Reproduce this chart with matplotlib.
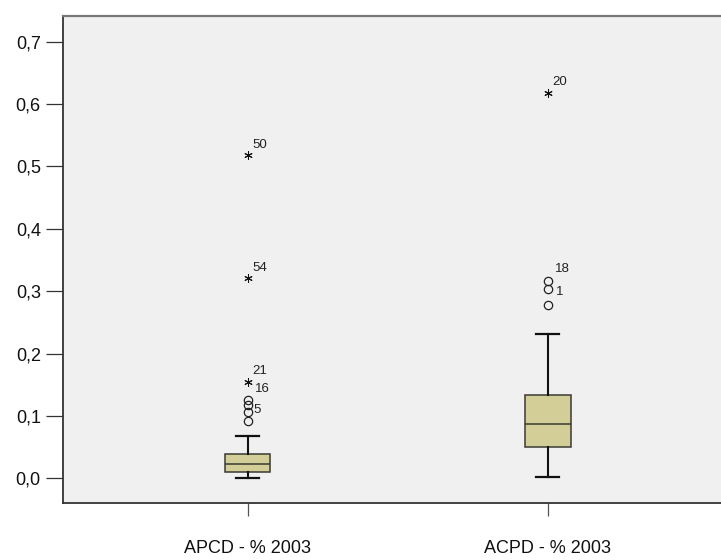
import matplotlib
matplotlib.use("Agg")
import matplotlib.pyplot as plt
from matplotlib.ticker import FuncFormatter

# Variables and their five-number summaries
categories = ["APCD - % 2003", "ACPD - % 2003"]
q1 = [0.0096, 0.0497]
median = [0.0224, 0.0875]
q3 = [0.039, 0.1336]
whisker_low = [0.001, 0.002]
whisker_high = [0.068, 0.232]

# Mild outliers (circles) and extreme outliers (stars) with case labels
mild_values = [[0.1255, 0.1175, 0.107, 0.092], [0.317, 0.303, 0.278]]
mild_labels = [["16", "", "5", ""], ["18", "1", ""]]
extreme_values = [[0.518, 0.321, 0.155], [0.617]]
extreme_labels = [["50", "54", "21"], ["20"]]

yticks = [0.0, 0.1, 0.2, 0.3, 0.4, 0.5, 0.6, 0.7]

# label offsets in points (dx, dy) relative to the marked case
mild_offsets = [[(5, 8), None, (4.5, 1.2), None], [(5, 8), (6, -2), None]]
extreme_offsets = [[(3.5, 7.5), (3.5, 7.5), (3.5, 7.5)], [(3, 8)]]

plt.rcParams["font.family"] = ["Liberation Sans", "DejaVu Sans"]

fig = plt.figure(figsize=(7.21, 5.60), dpi=100)
fig.patch.set_facecolor("white")
ax = fig.add_axes([63 / 721, 57 / 560, 1 - 63 / 721, 487 / 560])
ax.set_facecolor("#f0f0f0")

positions = [1, 2]
stats = []
for i, name in enumerate(categories):
    stats.append(dict(label=name, med=median[i], q1=q1[i], q3=q3[i],
                      whislo=whisker_low[i], whishi=whisker_high[i], fliers=[]))

ax.bxp(stats, positions=positions, widths=0.153, capwidths=0.077,
       patch_artist=True, showfliers=False,
       boxprops=dict(facecolor="#d3ce98", edgecolor="#3a3a32", linewidth=1.1),
       medianprops=dict(color="#3a3a32", linewidth=1.1),
       whiskerprops=dict(color="#111111", linewidth=1.5),
       capprops=dict(color="#111111", linewidth=1.6))

for i, pos in enumerate(positions):
    ax.plot([pos] * len(mild_values[i]), mild_values[i], linestyle="none",
            marker="o", markersize=6, markerfacecolor="none",
            markeredgecolor="#222222", markeredgewidth=0.9)
    ax.plot([pos] * len(extreme_values[i]), extreme_values[i], linestyle="none",
            marker=(6, 2, 0), markersize=6, markeredgecolor="#111111",
            markeredgewidth=0.75)
    for v, lab, off in zip(mild_values[i], mild_labels[i], mild_offsets[i]):
        if lab:
            ax.annotate(lab, (pos, v), xytext=off, textcoords="offset points",
                        fontsize=9.5, ha="left", va="center", color="#222222")
    for v, lab, off in zip(extreme_values[i], extreme_labels[i], extreme_offsets[i]):
        ax.annotate(lab, (pos, v), xytext=off, textcoords="offset points",
                    fontsize=9.5, ha="left", va="center", color="#222222")

ax.set_xlim(0.3854, 2.577)
ax.set_ylim(-0.0396, 0.7412)
ax.set_yticks(yticks)
ax.yaxis.set_major_formatter(FuncFormatter(lambda v, p: f"{v:.1f}".replace(".", ",")))
ax.set_xticks(positions)
ax.set_xticklabels(categories)

ax.tick_params(axis="y", length=12, width=0.9, color="#333333", pad=4,
               labelsize=13, labelcolor="#111111")
ax.tick_params(axis="x", length=9.5, width=0.9, color="#555555", pad=17,
               labelsize=13, labelcolor="#111111")

ax.spines["right"].set_visible(False)
ax.spines["left"].set_color("#333333")
ax.spines["left"].set_linewidth(1.3)
ax.spines["bottom"].set_color("#333333")
ax.spines["bottom"].set_linewidth(1.3)
ax.spines["top"].set_color("#777777")
ax.spines["top"].set_linewidth(1.6)

fig.savefig("out.png", dpi=100)
